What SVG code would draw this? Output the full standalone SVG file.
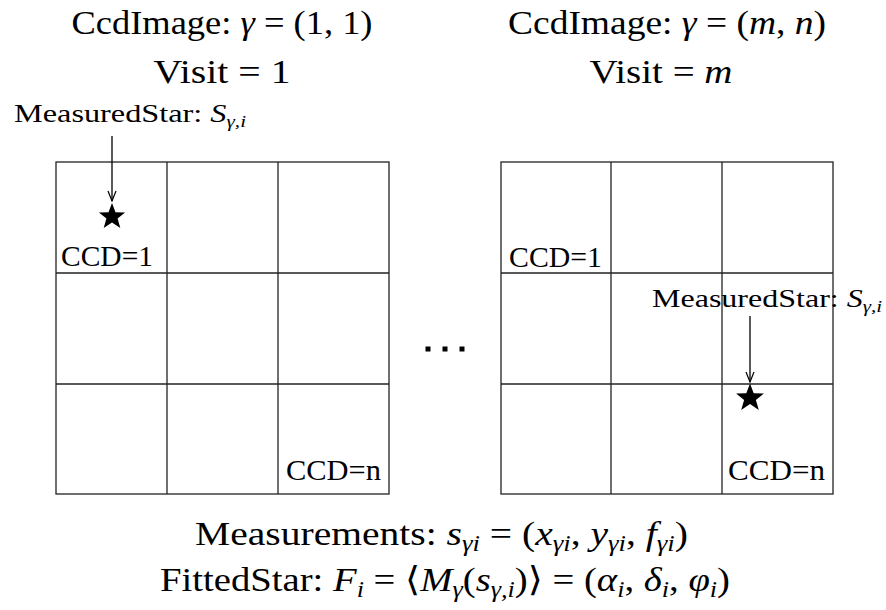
<svg xmlns="http://www.w3.org/2000/svg" width="886" height="610" viewBox="0 0 886 610">
<style>
  text { font-family: "Liberation Serif", "DejaVu Serif", serif; fill: #000; }
  .i { font-style: italic; }
  .grid line, .grid rect { stroke: #222; stroke-width: 1.3; fill: none; }
  .conn line { stroke: #000; stroke-width: 1.3; }
  .star { fill: #000; }
</style>
<defs>
  <marker id="vee" viewBox="-12 -6 13 12" markerWidth="13" markerHeight="12" refX="0" refY="0" orient="auto" markerUnits="userSpaceOnUse">
    <path d="M-10,-4 L0,0 L-10,4" fill="none" stroke="#000" stroke-width="1.2"/>
  </marker>
</defs>
<rect width="886" height="610" fill="#fff"/>

<g id="title-left">
  <text x="222" y="34" font-size="34" text-anchor="middle" textLength="301" lengthAdjust="spacingAndGlyphs">CcdImage:  <tspan class="i">γ</tspan> = (1, 1)</text>
  <text x="222" y="83" font-size="34" text-anchor="middle" textLength="137" lengthAdjust="spacingAndGlyphs">Visit = 1</text>
</g>
<g id="title-right">
  <text x="667" y="34" font-size="34" text-anchor="middle" textLength="318" lengthAdjust="spacingAndGlyphs">CcdImage: <tspan class="i">γ</tspan> = (<tspan class="i">m</tspan>, <tspan class="i">n</tspan>)</text>
  <text x="661" y="83" font-size="34" text-anchor="middle" textLength="143" lengthAdjust="spacingAndGlyphs">Visit = <tspan class="i">m</tspan></text>
</g>

<g id="grid-left" class="grid">
  <rect x="56" y="162" width="333" height="332"/>
  <line x1="167" y1="162" x2="167" y2="494"/>
  <line x1="278" y1="162" x2="278" y2="494"/>
  <line x1="56" y1="273" x2="389" y2="273"/>
  <line x1="56" y1="384" x2="389" y2="384"/>
  <text x="61" y="266" font-size="29" textLength="92" lengthAdjust="spacingAndGlyphs">CCD=1</text>
  <text x="286" y="480" font-size="29" textLength="95" lengthAdjust="spacingAndGlyphs">CCD=n</text>
</g>

<g id="grid-right" class="grid">
  <rect x="501" y="162" width="332" height="332"/>
  <line x1="611" y1="162" x2="611" y2="494"/>
  <line x1="722" y1="162" x2="722" y2="494"/>
  <line x1="501" y1="273" x2="833" y2="273"/>
  <line x1="501" y1="384" x2="833" y2="384"/>
  <text x="509" y="267" font-size="29" textLength="93" lengthAdjust="spacingAndGlyphs">CCD=1</text>
  <text x="728" y="480" font-size="29" textLength="97" lengthAdjust="spacingAndGlyphs">CCD=n</text>
</g>

<g id="ellipsis">
  <rect x="425.5" y="346.5" width="5" height="5"/>
  <rect x="442.5" y="346.5" width="5" height="5"/>
  <rect x="459.5" y="346.5" width="5" height="5"/>
</g>

<g id="star-left">
  <text x="14" y="122" font-size="26" textLength="232" lengthAdjust="spacingAndGlyphs">MeasuredStar:  <tspan class="i">S</tspan><tspan class="i" font-size="17" dy="5">γ,i</tspan></text>
  <polygon class="star" points="112,203 115.5,212.2 125.1,212.5 117.6,218.6 120.3,227.9 112,222.4 103.7,227.9 106.4,218.6 98.9,212.5 108.5,212.2"/>
</g>

<g id="star-right">
  <text x="652" y="307" font-size="26" textLength="230" lengthAdjust="spacingAndGlyphs">MeasuredStar:  <tspan class="i">S</tspan><tspan class="i" font-size="17" dy="5">γ,i</tspan></text>
  <polygon class="star" points="750,383.5 753.7,393.2 763.9,393.6 755.9,400 758.8,409.9 750,404.1 741.2,409.9 744.1,400 736.1,393.6 746.3,393.2"/>
</g>

<g id="connectors" class="conn">
  <line x1="112" y1="136" x2="112" y2="201" marker-end="url(#vee)"/>
  <line x1="750" y1="316" x2="750" y2="382" marker-end="url(#vee)"/>
</g>

<g id="formulas">
  <text x="195" y="545" font-size="34" textLength="493" lengthAdjust="spacingAndGlyphs">Measurements: <tspan class="i">s</tspan><tspan class="i" font-size="23" dy="6">γi</tspan><tspan dy="-6"> = (</tspan><tspan class="i">x</tspan><tspan class="i" font-size="23" dy="6">γi</tspan><tspan dy="-6">, </tspan><tspan class="i">y</tspan><tspan class="i" font-size="23" dy="6">γi</tspan><tspan dy="-6">, </tspan><tspan class="i">f</tspan><tspan class="i" font-size="23" dy="6">γi</tspan><tspan dy="-6">)</tspan></text>
  <text x="160" y="591" font-size="34" textLength="570" lengthAdjust="spacingAndGlyphs">FittedStar: <tspan class="i">F</tspan><tspan class="i" font-size="23" dy="6">i</tspan><tspan dy="-6"> = ⟨</tspan><tspan class="i">M</tspan><tspan class="i" font-size="23" dy="6">γ</tspan><tspan dy="-6">(</tspan><tspan class="i">s</tspan><tspan class="i" font-size="23" dy="6">γ,i</tspan><tspan dy="-6">)⟩ = (</tspan><tspan class="i">α</tspan><tspan class="i" font-size="23" dy="6">i</tspan><tspan dy="-6">, </tspan><tspan class="i">δ</tspan><tspan class="i" font-size="23" dy="6">i</tspan><tspan dy="-6">, </tspan><tspan class="i">φ</tspan><tspan class="i" font-size="23" dy="6">i</tspan><tspan dy="-6">)</tspan></text>
</g>
</svg>
